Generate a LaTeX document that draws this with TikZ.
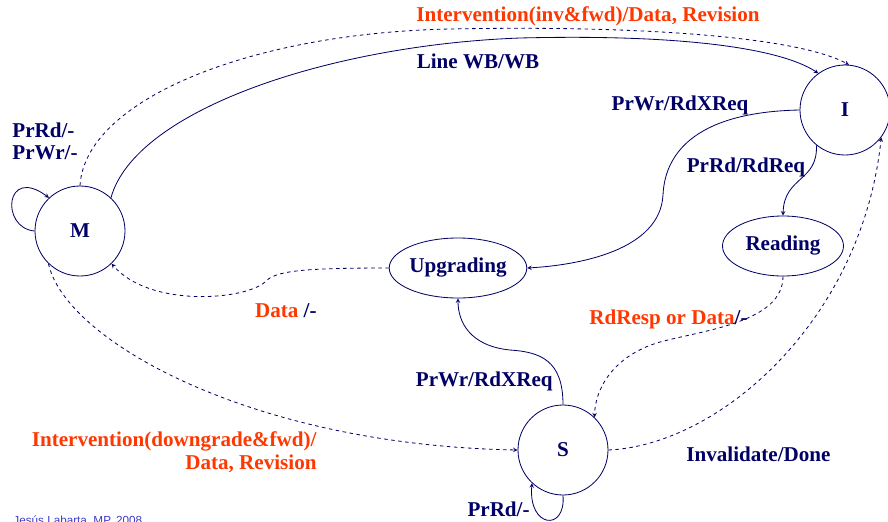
\documentclass[tikz,border=0pt]{standalone}
\usepackage{fontspec}
\setmainfont{Liberation Serif}
\setsansfont{Liberation Sans}
\usetikzlibrary{shapes.geometric}
\definecolor{navy}{RGB}{0,0,102}
\definecolor{hotred}{RGB}{255,55,0}
\definecolor{footblue}{RGB}{60,60,200}

\begin{document}
\begin{tikzpicture}[
     x = 0.03cm, y = -0.03cm, % pixel grid
     > = stealth, % arrow head style
     navy,
     line width = 0.7pt % line style
 ]

 \tikzstyle{state} = [
     circle,
     draw = navy,
     minimum size = 2.7cm,
     font = \fontsize{18}{21}\selectfont\bfseries
 ]
 \tikzstyle{phase} = [
     ellipse,
     draw = navy,
     minimum width = 3.63cm,
     minimum height = 1.8cm,
     inner sep = 0pt,
     font = \fontsize{18}{21}\selectfont\bfseries
 ]
 \tikzstyle{lbl} = [
     text = navy,
     inner sep = 0pt,
     font = \fontsize{18}{21}\selectfont\bfseries
 ]
 \tikzstyle{hot} = [lbl, text = hotred]

 \clip (0,0) rectangle (888,521);

 % states
 \node[state] (M) at (80,231) {M};
 \node[state] (I) at (845,110) {I};
 \node[state] (S) at (563,450) {S};
 \node[phase] (read) at (783,246) {Reading};
 \node[phase] (upg) at (458,268) {Upgrading};

 % labels
 \node[hot] (linv) at (588,16) {Intervention(inv\&fwd)/Data, Revision};
 \node[lbl] (lwb) at (478,61) {Line WB/WB};
 \node[lbl] (lwrI) at (680,105) {PrWr/RdXReq};
 \node[lbl] (lrdI) at (746,167) {PrRd/RdReq};
 \node[lbl, align=left, anchor=west] (lloopM) at (12,141) {PrRd/-\\[-2pt]PrWr/-};
 \node[lbl, anchor=east] (ldata) at (317,311) {\textcolor{hotred}{Data} /-};
 \node[lbl, anchor=east] (lresp) at (748,319) {\textcolor{hotred}{RdResp or Data}/-};
 \node[lbl, anchor=east] (lwrS) at (553,381) {PrWr/RdXReq};
 \node[hot, align=right, anchor=east] (ldown) at (317,452) {Intervention(downgrade\&fwd)/\\[-1pt]Data, Revision};
 \node[lbl, anchor=west] (linval) at (686,454) {Invalidate/Done};
 \node[lbl, anchor=east] (lloopS) at (530,509) {PrRd/-};
 \node[anchor=base west, inner sep=0pt, text=footblue,
       font=\fontsize{10}{12}\selectfont\sffamily] (foot) at (13,524) {Jesús Labarta, MP, 2008};

 % transitions
 \draw[->] (M.47) .. controls (135,110) and (330,45) .. (520,38)
     .. controls (680,34) and (780,48) .. (I.126);
 \draw[->, dashed] (M.90) .. controls (85,100) and (250,33) .. (450,29)
     .. controls (650,25) and (800,38) .. (I.85);
 \draw[->] (I.180) .. controls (700,112) and (665,150) .. (663,195)
     .. controls (660,250) and (580,265) .. (upg.east);
 \draw[->] (I.231) .. controls (818,182) and (784,176) .. (read.north);
 \draw[->, dashed] (upg.west) .. controls (300,268) and (275,271) .. (265,282)
     .. controls (245,300) and (150,308) .. (M.314);
 \draw[->, dashed] (M.226) .. controls (65,340) and (250,445) .. (S.west);
 \draw[->, dashed] (read.south) .. controls (783,322) and (705,330) .. (660,342)
     .. controls (612,356) and (595,390) .. (S.46);
 \draw[->, dashed] (S.east) .. controls (720,445) and (862,320) .. (I.323);
 \draw[->] (S.north) .. controls (563,360) and (540,352) .. (510,350)
     .. controls (470,346) and (458,322) .. (upg.south);
 \draw[->] (M.180) .. controls (0,228) and (5,165) .. (M.133);
 \draw[->] (S.270) .. controls (566,532) and (528,528) .. (S.227);
\end{tikzpicture}
\end{document}
